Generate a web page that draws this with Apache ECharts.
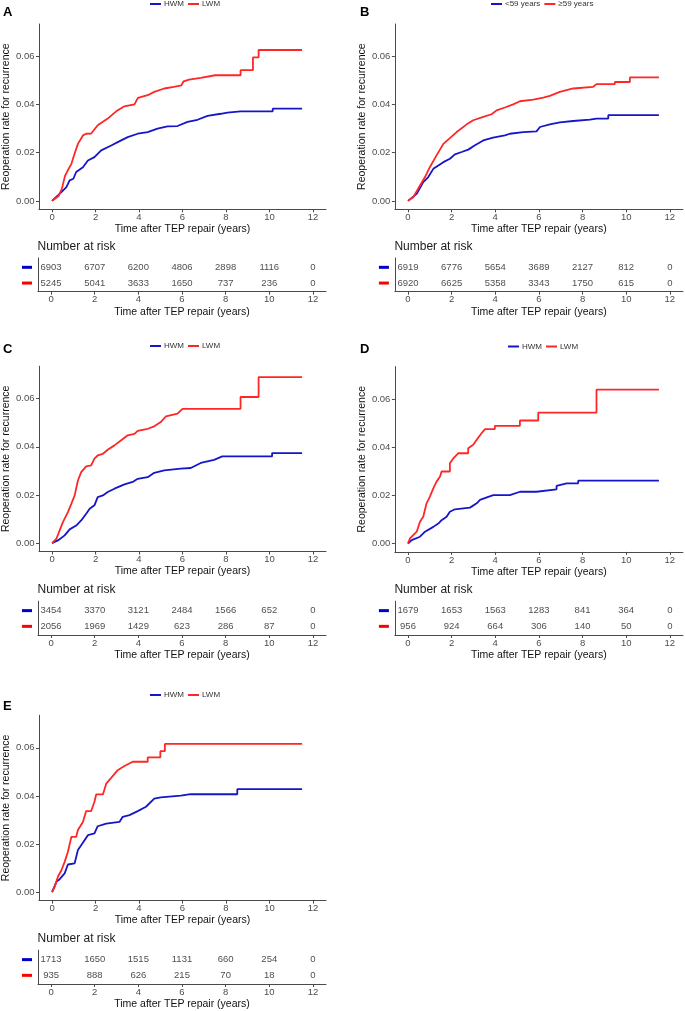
<!DOCTYPE html>
<html>
<head>
<meta charset="utf-8">
<script src="https://cdn.jsdelivr.net/npm/echarts@6/dist/echarts.min.js"></script>
<style>
html,body{margin:0;padding:0;background:#fff;}
#chart{width:685px;height:1011px;}
</style>
</head>
<body>
<div id="chart"></div>
<script>
// ---------- DATA ----------
var riskTimes = [0, 2, 4, 6, 8, 10, 12];
var xTicks = [0, 2, 4, 6, 8, 10, 12];
var yTicks = [0, 0.02, 0.04, 0.06];

var namesHWM = ['HWM', 'LWM'];
var namesAge = ['<59 years', '\u226559 years'];

// Panel A
var aHWM = [[0,0],[0.43,0.0036],[0.66,0.0057],[0.81,0.0085],[0.98,0.0092],[1.11,0.012],[1.42,0.014],[1.65,0.0168],[1.95,0.0182],[2.26,0.021],[2.72,0.023],[3.02,0.0244],[3.48,0.0265],[3.94,0.0279],[4.4,0.0286],[4.85,0.03],[5.31,0.031],[5.77,0.0311],[6.23,0.0328],[6.69,0.0337],[7.15,0.0353],[7.76,0.0362],[8.06,0.0367],[8.67,0.0372],[10.15,0.0372],[10.15,0.0383],[11.5,0.0383]];
var aLWM = [[0,0],[0.15,0.001],[0.3,0.002],[0.45,0.005],[0.6,0.0105],[0.72,0.0126],[0.89,0.0154],[1.05,0.02],[1.19,0.0237],[1.42,0.0272],[1.57,0.0279],[1.8,0.028],[2.1,0.0314],[2.56,0.0342],[2.95,0.0372],[3.33,0.0393],[3.79,0.0401],[3.95,0.0428],[4.4,0.0439],[4.7,0.0453],[5.16,0.0467],[5.6,0.0474],[5.95,0.048],[6.05,0.0497],[6.3,0.0504],[6.84,0.0511],[7.5,0.0522],[8.67,0.0522],[8.67,0.0543],[9.24,0.0543],[9.24,0.0596],[9.5,0.0596],[9.5,0.0627],[11.5,0.0627]];
var riskA_HWM = [6903, 6707, 6200, 4806, 2898, 1116, 0];
var riskA_LWM = [5245, 5041, 3633, 1650, 737, 236, 0];

// Panel B
var bYoung = [[0,0],[0.4,0.0029],[0.7,0.0078],[0.93,0.0099],[1.16,0.0133],[1.39,0.0147],[1.62,0.0161],[1.92,0.0175],[2.15,0.0193],[2.46,0.0203],[2.76,0.0213],[3.07,0.0231],[3.45,0.0251],[3.9,0.0263],[4.44,0.0272],[4.67,0.0279],[5.28,0.0286],[5.89,0.0289],[6.05,0.0307],[6.5,0.0318],[6.96,0.0326],[7.57,0.0332],[8.34,0.0338],[8.64,0.0342],[9.18,0.0342],[9.18,0.0356],[11.5,0.0356]];
var bOld = [[0,0],[0.24,0.0015],[0.55,0.0064],[0.78,0.0099],[1.0,0.014],[1.31,0.0189],[1.62,0.0237],[1.92,0.0261],[2.23,0.0286],[2.69,0.0318],[2.99,0.0335],[3.45,0.0349],[3.83,0.036],[4.06,0.0376],[4.44,0.0388],[4.82,0.0401],[5.13,0.0414],[5.74,0.0421],[6.2,0.0429],[6.5,0.0436],[6.96,0.0453],[7.57,0.0467],[8.49,0.0474],[8.64,0.0485],[9.48,0.0485],[9.48,0.0494],[10.17,0.0494],[10.17,0.0513],[11.5,0.0513]];
var riskB_Young = [6919, 6776, 5654, 3689, 2127, 812, 0];
var riskB_Old = [6920, 6625, 5358, 3343, 1750, 615, 0];

// Panel C
var cHWM = [[0,0],[0.27,0.0011],[0.58,0.0032],[0.81,0.0057],[1.11,0.0073],[1.34,0.0094],[1.57,0.0122],[1.73,0.0143],[1.95,0.0157],[2.1,0.0191],[2.34,0.0198],[2.56,0.0212],[2.87,0.0226],[3.33,0.0244],[3.71,0.0254],[3.94,0.0267],[4.4,0.0274],[4.7,0.0292],[5.16,0.0302],[5.92,0.0309],[6.38,0.0312],[6.84,0.0333],[7.45,0.0346],[7.83,0.036],[10.12,0.036],[10.12,0.0374],[11.5,0.0374]];
var cLWM = [[0,0],[0.2,0.0018],[0.35,0.0053],[0.5,0.0087],[0.73,0.0129],[0.89,0.0164],[1.04,0.0198],[1.19,0.026],[1.34,0.0295],[1.57,0.0319],[1.8,0.0323],[1.95,0.0351],[2.1,0.0364],[2.34,0.0371],[2.56,0.0388],[2.87,0.0406],[3.18,0.0427],[3.48,0.0448],[3.79,0.0454],[3.94,0.0466],[4.4,0.0475],[4.7,0.0485],[5.0,0.0503],[5.24,0.0527],[5.77,0.0538],[6.0,0.0558],[8.67,0.0558],[8.67,0.0607],[9.5,0.0607],[9.5,0.069],[11.5,0.069]];
var riskC_HWM = [3454, 3370, 3121, 2484, 1566, 652, 0];
var riskC_LWM = [2056, 1969, 1429, 623, 286, 87, 0];

// Panel D
var dHWM = [[0,0],[0.17,0.0014],[0.55,0.0028],[0.78,0.0049],[1.16,0.0069],[1.39,0.0083],[1.54,0.0097],[1.77,0.0111],[1.92,0.0132],[2.15,0.0142],[2.84,0.0149],[2.84,0.0156],[3.15,0.0167],[3.3,0.0181],[3.68,0.0194],[3.91,0.0201],[4.67,0.0201],[4.67,0.0208],[5.13,0.0215],[5.89,0.0215],[5.89,0.0222],[6.81,0.0225],[6.81,0.0239],[7.27,0.025],[7.8,0.025],[7.8,0.0261],[11.5,0.0261]];
var dLWM = [[0,0],[0.09,0.0021],[0.24,0.0035],[0.4,0.0049],[0.55,0.009],[0.7,0.0111],[0.85,0.0167],[1.0,0.0194],[1.16,0.0229],[1.31,0.0257],[1.47,0.0278],[1.54,0.0299],[1.92,0.0299],[1.92,0.0333],[2.08,0.0354],[2.31,0.0375],[2.76,0.0375],[2.76,0.0396],[2.99,0.041],[3.15,0.0431],[3.37,0.0458],[3.53,0.0475],[3.98,0.0475],[3.98,0.0489],[5.13,0.0489],[5.13,0.0511],[5.97,0.0511],[5.97,0.0544],[8.64,0.0544],[8.64,0.0639],[11.5,0.0639]];
var riskD_HWM = [1679, 1653, 1563, 1283, 841, 364, 0];
var riskD_LWM = [956, 924, 664, 306, 140, 50, 0];

// Panel E
var eHWM = [[0,0],[0.2,0.0043],[0.35,0.0054],[0.58,0.0078],[0.73,0.0115],[1.04,0.012],[1.19,0.0175],[1.34,0.0195],[1.65,0.0237],[1.95,0.0244],[2.1,0.0274],[2.49,0.0285],[3.1,0.0292],[3.25,0.0313],[3.56,0.032],[3.94,0.0337],[4.32,0.0355],[4.7,0.0389],[5.0,0.0394],[5.92,0.0401],[6.38,0.0407],[8.52,0.0407],[8.52,0.0428],[11.5,0.0428]];
var eLWM = [[0,0],[0.12,0.0022],[0.27,0.0064],[0.43,0.0091],[0.58,0.0126],[0.73,0.0168],[0.89,0.023],[1.11,0.023],[1.19,0.0258],[1.42,0.0292],[1.57,0.0337],[1.8,0.0337],[1.95,0.0376],[2.03,0.0406],[2.34,0.0406],[2.49,0.0451],[2.72,0.0475],[3.02,0.0507],[3.33,0.0524],[3.71,0.0542],[4.4,0.0542],[4.4,0.056],[4.98,0.056],[4.98,0.0586],[5.19,0.0586],[5.19,0.0616],[11.5,0.0616]];
var riskE_HWM = [1713, 1650, 1515, 1131, 660, 254, 0];
var riskE_LWM = [935, 888, 626, 215, 70, 18, 0];

// ---------- STYLE / LAYOUT ----------
var BLUE = '#1616c8';
var RED = '#ff2626';
var FONT = 'Liberation Sans, Arial, Helvetica, sans-serif';
var AXIS_COLOR = '#4a4a4a';
var GRID_W = 288, MAIN_H = 185.3, RISK_H = 33.8;

var panels = [
  {label:'A', names:namesHWM, s1:aHWM, s2:aLWM, r1:riskA_HWM, r2:riskA_LWM, gx:38, mainTop:24, riskBottom:291.7, legL:150, legT:0, lx:3, ly:6, narTop:241},
  {label:'B', names:namesAge, s1:bYoung, s2:bOld, r1:riskB_Young, r2:riskB_Old, gx:394.9, mainTop:24, riskBottom:291.7, legL:491, legT:0, lx:360, ly:6, narTop:241},
  {label:'C', names:namesHWM, s1:cHWM, s2:cLWM, r1:riskC_HWM, r2:riskC_LWM, gx:38, mainTop:366.2, riskBottom:635, legL:150, legT:342, lx:3, ly:343, narTop:584},
  {label:'D', names:namesHWM, s1:dHWM, s2:dLWM, r1:riskD_HWM, r2:riskD_LWM, gx:394.9, mainTop:366.6, riskBottom:635, legL:508, legT:342.5, lx:360, ly:343, narTop:584},
  {label:'E', names:namesHWM, s1:eHWM, s2:eLWM, r1:riskE_HWM, r2:riskE_LWM, gx:38, mainTop:715.3, riskBottom:984, legL:150, legT:691, lx:3, ly:700, narTop:933}
];

var option = {
  animation: false,
  backgroundColor: '#fff',
  textStyle: {fontFamily: FONT},
  grid: [], xAxis: [], yAxis: [], series: [], legend: [], title: []
};

function axisBase() {
  return {
    axisLine: {show: true, onZero: false, lineStyle: {color: AXIS_COLOR, width: 1}},
    axisTick: {show: true, length: 3, lineStyle: {color: AXIS_COLOR, width: 1}},
    splitLine: {show: false}
  };
}

panels.forEach(function (p, i) {
  var gMain = option.grid.length;
  option.grid.push({left: p.gx, top: p.mainTop, width: GRID_W, height: MAIN_H, containLabel: false});
  var gRisk = option.grid.length;
  option.grid.push({left: p.gx, top: p.riskBottom - RISK_H, width: GRID_W, height: RISK_H, containLabel: false});

  var xm = axisBase();
  Object.assign(xm, {
    type: 'value', gridIndex: gMain, min: -0.6, max: 12.6,
    name: 'Time after TEP repair (years)', nameLocation: 'middle', nameGap: 14.5,
    nameTextStyle: {fontSize: 10.5, color: '#111', fontFamily: FONT},
    axisLabel: {customValues: xTicks, fontSize: 9.5, color: '#4d4d4d', margin: 3, fontFamily: FONT}
  });
  xm.axisTick.customValues = xTicks;
  option.xAxis.push(xm);

  var ym = axisBase();
  Object.assign(ym, {
    type: 'value', gridIndex: gMain, min: -0.0035, max: 0.0735,
    name: 'Reoperation rate for recurrence', nameLocation: 'middle', nameGap: 27,
    nameTextStyle: {fontSize: 10.5, color: '#111', fontFamily: FONT},
    axisLabel: {customValues: yTicks, fontSize: 9.5, color: '#4d4d4d', margin: 4.5, fontFamily: FONT,
      formatter: function (v) { return v.toFixed(2); }}
  });
  ym.axisTick.customValues = yTicks;
  option.yAxis.push(ym);

  var xr = axisBase();
  Object.assign(xr, {
    type: 'value', gridIndex: gRisk, min: -0.6, max: 12.6,
    name: 'Time after TEP repair (years)', nameLocation: 'middle', nameGap: 14.5,
    nameTextStyle: {fontSize: 10.5, color: '#111', fontFamily: FONT},
    axisLabel: {customValues: xTicks, fontSize: 9.5, color: '#4d4d4d', margin: 3, fontFamily: FONT}
  });
  xr.axisTick.customValues = xTicks;
  option.xAxis.push(xr);

  var yr = axisBase();
  Object.assign(yr, {
    type: 'value', gridIndex: gRisk, min: 0.45, max: 2.6,
    axisTick: {show: false},
    axisLabel: {customValues: [1, 2], margin: 6,
      formatter: function (v) { return v === 2 ? '{b| }' : '{r| }'; },
      rich: {
        b: {width: 10, height: 3, backgroundColor: '#0000cc', lineHeight: 3},
        r: {width: 10, height: 3, backgroundColor: '#ff0000', lineHeight: 3}
      }}
  });
  option.yAxis.push(yr);

  var xi = option.xAxis.length - 2, yi = option.yAxis.length - 2;
  var colors = [BLUE, RED];
  [p.s1, p.s2].forEach(function (d, k) {
    option.series.push({
      type: 'line', name: p.names[k], xAxisIndex: xi, yAxisIndex: yi,
      data: d, showSymbol: false, symbol: 'none', silent: true,
      color: colors[k],
      lineStyle: {color: colors[k], width: 1.8}, clip: true
    });
  });
  [p.r1, p.r2].forEach(function (arr, k) {
    option.series.push({
      type: 'scatter', xAxisIndex: xi + 1, yAxisIndex: yi + 1, silent: true,
      symbol: 'circle', symbolSize: 1, itemStyle: {color: 'rgba(255,255,255,0)'},
      data: riskTimes.map(function (t, j) { return [t, k === 0 ? 2 : 1, arr[j]]; }),
      label: {show: true, position: 'inside', fontSize: 9.5, color: '#1a1a1a', fontFamily: FONT,
        formatter: function (pr) { return String(pr.value[2]); }},
      labelLayout: {hideOverlap: false}
    });
  });

  option.legend.push({
    data: p.names.map(function (n) { return {name: n, icon: 'rect'}; }),
    left: p.legL, top: p.legT, padding: 0, itemWidth: 11, itemHeight: 2, itemGap: 4,
    selectedMode: false,
    textStyle: {fontSize: 8, color: '#333', fontFamily: FONT, padding: [0, 0, 0, -2]}
  });

  option.title.push({
    text: p.label, left: p.lx, top: p.ly, padding: 0,
    textStyle: {fontSize: 13, fontWeight: 'bold', color: '#000', fontFamily: FONT}
  });
  option.title.push({
    text: 'Number at risk', left: p.gx - 0.5, top: p.narTop, padding: 0,
    textStyle: {fontSize: 12, fontWeight: 'normal', color: '#1a1a1a', fontFamily: FONT}
  });
});

var chart = echarts.init(document.getElementById('chart'), null, {renderer: 'canvas'});
chart.setOption(option);
</script>
</body>
</html>
